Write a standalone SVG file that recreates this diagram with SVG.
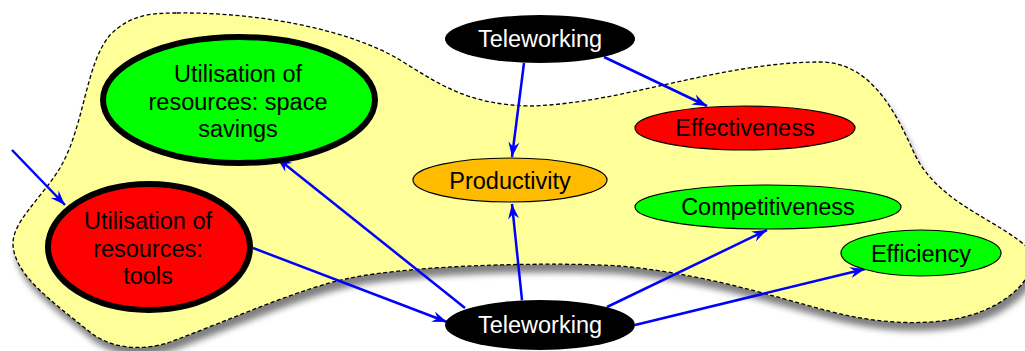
<svg xmlns="http://www.w3.org/2000/svg" width="1025" height="351" viewBox="0 0 1025 351">
<style>
text{font-family:"Liberation Sans",Arial,sans-serif;font-size:23.5px;text-anchor:middle;fill:#000}
.dark text{fill:#fff}
.thick{stroke:#000;stroke-width:6}
.thin{stroke:#000;stroke-width:1.2}
.edge{fill:none;stroke:#0000ff;stroke-width:2.5}
</style>
<defs>
<filter id="shadow" x="-5%" y="-5%" width="115%" height="125%">
<feGaussianBlur in="SourceAlpha" stdDeviation="3"/>
<feOffset dx="3" dy="8" result="b"/>
<feFlood flood-color="#000" flood-opacity="0.5"/>
<feComposite in2="b" operator="in" result="s"/>
<feMerge><feMergeNode in="s"/><feMergeNode in="SourceGraphic"/></feMerge>
</filter>
<marker id="arr" viewBox="-16 -8 18 16" markerWidth="18" markerHeight="16" refX="0" refY="0" orient="auto" markerUnits="userSpaceOnUse">
<path d="M0,0 L-15,-5.5 L-10,0 L-15,5.5 Z" fill="#0000ff"/>
</marker>
</defs>
<g id="region">
<path filter="url(#shadow)" fill="#ffff99" stroke="#000" stroke-width="1.3" stroke-dasharray="4,2.5" d="M177,13 C260,12 350,30 400,60 C440,85 470,105 530,106 C620,104 720,62 820,62 C870,62 895,110 915,155 C940,205 1000,220 1030,250 C1038,270 1020,295 985,310 C950,325 900,326 850,316 C800,306 720,275 620,266 C560,262 420,264 350,278 C300,288 230,320 170,342 C140,352 110,348 90,332 C50,300 15,275 13,245 C12,222 40,200 60,168 C85,125 85,65 110,35 C130,15 150,13 177,13 Z"/>
</g>
<g id="connectors">
<line class="edge" x1="12" y1="150" x2="65" y2="205" marker-end="url(#arr)"/>
<line class="edge" x1="465" y1="308" x2="277" y2="158" marker-end="url(#arr)"/>
<line class="edge" x1="253" y1="248" x2="447" y2="322" marker-end="url(#arr)"/>
<line class="edge" x1="522" y1="300" x2="512" y2="204" marker-end="url(#arr)"/>
<line class="edge" x1="524" y1="63" x2="512" y2="157" marker-end="url(#arr)"/>
<line class="edge" x1="604" y1="57" x2="707" y2="106" marker-end="url(#arr)"/>
<line class="edge" x1="607" y1="307" x2="767" y2="230" marker-end="url(#arr)"/>
<line class="edge" x1="635" y1="325" x2="865" y2="269" marker-end="url(#arr)"/>
</g>
<g id="teleworking-top" class="dark">
<ellipse cx="540" cy="39" rx="95" ry="24" fill="#000"/>
<text x="540" y="47">Teleworking</text>
</g>
<g id="teleworking-bottom" class="dark">
<ellipse cx="540" cy="325" rx="95" ry="25" fill="#000"/>
<text x="540" y="333">Teleworking</text>
</g>
<g id="space-savings">
<ellipse class="thick" cx="239" cy="100" rx="136" ry="63" fill="#00ff00"/>
<text x="238" y="82">Utilisation of</text>
<text x="238" y="110">resources: space</text>
<text x="238" y="137">savings</text>
</g>
<g id="tools">
<ellipse class="thick" cx="149" cy="247" rx="101" ry="63" fill="#ff0000"/>
<text x="148" y="229">Utilisation of</text>
<text x="148" y="257">resources:</text>
<text x="148" y="284">tools</text>
</g>
<g id="productivity">
<ellipse class="thin" cx="510" cy="180" rx="97" ry="22" fill="#ffbb00"/>
<text x="510" y="189">Productivity</text>
</g>
<g id="effectiveness">
<ellipse class="thin" cx="745" cy="128" rx="110" ry="22" fill="#ff0000"/>
<text x="745" y="136">Effectiveness</text>
</g>
<g id="competitiveness">
<ellipse class="thin" cx="768" cy="207" rx="133" ry="22" fill="#00ff00"/>
<text x="768" y="215">Competitiveness</text>
</g>
<g id="efficiency">
<ellipse class="thin" cx="921" cy="253" rx="80" ry="23" fill="#00ff00"/>
<text x="921" y="262">Efficiency</text>
</g>
</svg>
